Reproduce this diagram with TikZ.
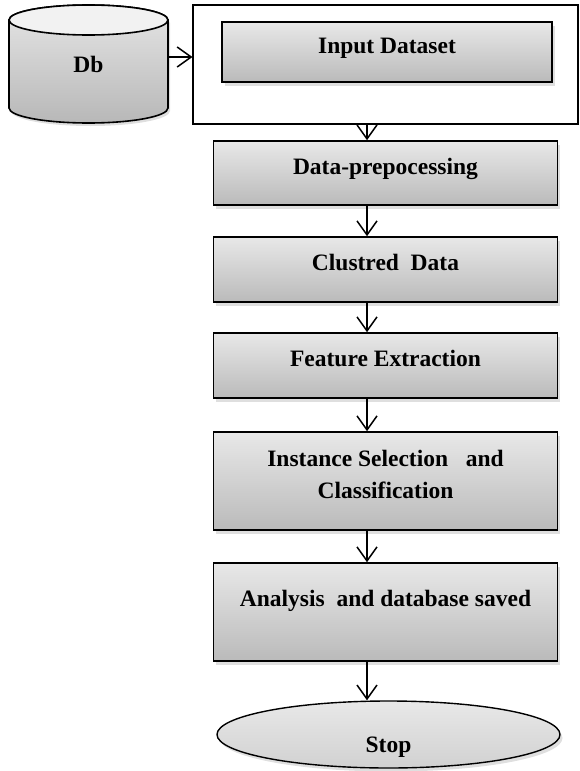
\documentclass[tikz,border=0pt]{standalone}
\usepackage{fontspec}
\setmainfont{Liberation Serif}
\usetikzlibrary{positioning}
\usetikzlibrary{arrows.meta}
\usetikzlibrary{shadows}
\usetikzlibrary{shapes.geometric}

\begin{document}
\begin{tikzpicture}
          [
          x=1pt, y=-1pt,
          font=\fontsize{23.5}{32}\selectfont\bfseries,
          Box/.style={rectangle, draw=black, top color=black!9, bottom color=black!27, line width=1.6pt, minimum width=344pt, text height=17pt, text depth=15pt, align=center, drop shadow={shadow xshift=2.5pt, shadow yshift=-3.5pt, opacity=0.25}},
          Plain/.style={rectangle, draw=black, line width=1.1pt, minimum width=385pt, minimum height=119pt},
          Oval/.style={ellipse, draw=black, top color=black!9, bottom color=black!18, line width=1.4pt, minimum width=343pt, minimum height=67pt, text height=35pt, text depth=0pt, drop shadow={shadow xshift=2.5pt, shadow yshift=-3.5pt, opacity=0.25}},
          Flow/.style={-{Straight Barb[length=14pt, width=20pt]}, line width=1.5pt},
          ]
          \useasboundingbox (0,0) rectangle (579,771);

          % Database
          \path [draw, line width=1.6pt, top color=black!10, bottom color=black!28, drop shadow={shadow xshift=2pt, shadow yshift=-3pt, opacity=0.25}]
            (9,20) -- (9,108) arc[start angle=180, end angle=0, x radius=79.5, y radius=15]
            -- (168,20) arc[start angle=0, end angle=-180, x radius=79.5, y radius=15] -- cycle;
          \filldraw [fill=black!5, line width=1.6pt] (88.5,20) ellipse[x radius=79.5, y radius=15];
          \node (Db) at (88.5,64) [minimum width=159pt, minimum height=118pt] {Db};

          % Nodes
          \node[Plain] (Frame) at (385.5,64.5) {};
          \node[Box, minimum width=330pt, minimum height=60pt] (Input) at (387,52) {Input Dataset};
          \node[Box, minimum height=64pt] (Prep) at (385.5,173) {Data-prepocessing};
          \node[Box, minimum height=65pt] (Cluster) at (385.5,269.5) {Clustred\ \ Data};
          \node[Box, minimum height=65pt] (Feature) at (385.5,365.5) {Feature Extraction};
          \node[Box, minimum height=98pt, text height=49pt] (Select) at (385.5,481) {Instance Selection\ \ \ and\\Classification};
          \node[Box, minimum height=98pt, text depth=29pt] (Analysis) at (385.5,612) {Analysis\ \ and database saved};
          \node[Oval] (Stop) at (388.5,734.5) {Stop};

          % Lines
          \path [Flow, draw] ([yshift=7pt]Db.east) -- ([yshift=7pt]Db.east -| Frame.west);
          \path [Flow, draw] ([xshift=-18.5pt]Frame.south) -- ([xshift=-18.5pt]Prep.north);
          \path [Flow, draw] ([xshift=-18.5pt]Prep.south) -- ([xshift=-18.5pt]Cluster.north);
          \path [Flow, draw] ([xshift=-18.5pt]Cluster.south) -- ([xshift=-18.5pt]Feature.north);
          \path [Flow, draw] ([xshift=-18.5pt]Feature.south) -- ([xshift=-18.5pt]Select.north);
          \path [Flow, draw] ([xshift=-18.5pt]Select.south) -- ([xshift=-18.5pt]Analysis.north);
          \path [Flow, draw] ([xshift=-18.5pt]Analysis.south) -- ([xshift=-18.5pt]Analysis.south |- Stop.north);

\end{tikzpicture}
\end{document}
